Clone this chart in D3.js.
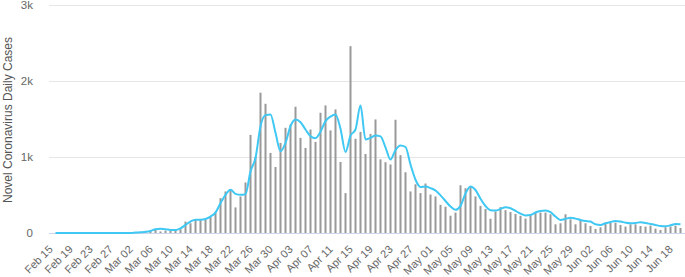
<!DOCTYPE html>
<html><head><meta charset="utf-8">
<script src="https://cdn.jsdelivr.net/npm/d3@7"></script>
<style>
html,body{margin:0;padding:0;background:#fff;}
svg{display:block;font-family:"Lucida Grande","Lucida Sans Unicode","Liberation Sans",Arial,sans-serif;}
</style></head>
<body><svg id="c" width="685" height="277"></svg>
<script>
// ---- data ----
const startDate = "2020-02-15";
const dailyCases = [
 0,0,0,0,0,0,0,0,0,0, 0,0,0,0,0,0,0,3,6,10,
 40,50,20,30,30,42,50,150,128,180, 176,180,216,280,458,546,568,336,480,664,
 1289,1000,1844,1698,1052,867,1184,1382,1426,1659, 1250,1118,1360,1197,1580,1676,1348,1624,933,524,
 2455,1238,1329,1038,1302,1492,968,930,900,1488, 1023,798,546,640,524,650,505,480,370,345,
 227,268,627,588,612,480,356,315,187,282, 340,300,275,250,226,190,233,264,268,268,
 246,114,128,246,180,114,172,128,92,53, 75,136,136,136,106,84,114,114,92,84,
 97,57,40,75,84,97,66
];
const smoothed = [
 null,0,0,0,0,0,0,0,0,0, 0,0,0,0,0,0,0,5,10,15,
 26,50,55,50,40,40,62,106,150,175, 175,185,216,268,392,502,568,515,502,510,
 810,986,1404,1549,1558,1316,1074,1184,1404,1492, 1456,1360,1272,1245,1330,1470,1530,1558,1370,1065,
 1280,1360,1676,1228,1250,1280,1270,1125,965,1090, 1150,1130,900,700,605,612,590,559,495,420,
 348,304,356,520,612,565,450,355,300,295, 315,340,326,290,255,230,236,270,290,295,
 273,216,172,185,202,189,172,158,150,114, 106,128,145,158,150,136,128,132,141,132,
 119,106,92,88,101,119,114
];
const yTicks = [0,1000,2000,3000];
const yTickLabels = ["0","1k","2k","3k"];
const xTickLabels = ["Feb 15","Feb 19","Feb 23","Feb 27","Mar 02","Mar 06","Mar 10","Mar 14","Mar 18","Mar 22","Mar 26","Mar 30","Apr 03","Apr 07","Apr 11","Apr 15","Apr 19","Apr 23","Apr 27","May 01","May 05","May 09","May 13","May 17","May 21","May 25","May 29","Jun 02","Jun 06","Jun 10","Jun 14","Jun 18"];
const yTitle = "Novel Coronavirus Daily Cases";

// ---- chart ----
const fmt = d3.timeFormat("%b %d");
const start = d3.timeParse("%Y-%m-%d")(startDate);
const days = dailyCases.map((v,i)=>fmt(d3.timeDay.offset(start,i)));
const rows = days.map((d,i)=>({d, v:dailyCases[i], s:smoothed[i]}));

const svg = d3.select("#c");
const x = d3.scaleBand().domain(days).range([48,683]).paddingInner(0.6).paddingOuter(0.3);
const y = d3.scaleLinear().domain([0,3000]).range([233,4.7]);
const cx = d => x(d) + x.bandwidth()/2;

// grid
svg.append("g").selectAll("line").data(yTicks.filter(t=>t>0)).join("line")
  .attr("x1",49).attr("x2",685).attr("y1",d=>Math.round(y(d))+0.5).attr("y2",d=>Math.round(y(d))+0.5)
  .attr("stroke","#e6e6e6").attr("stroke-width",1);

// y labels
svg.append("g").selectAll("text").data(yTicks).join("text")
  .attr("x",33).attr("y",d=>y(d)+4).attr("text-anchor","end")
  .attr("font-size",11.5).attr("fill","#666").text((d,i)=>yTickLabels[i]);

// y title
svg.append("text").attr("transform","translate(12,120) rotate(-90)")
  .attr("text-anchor","middle").attr("font-size",12).attr("fill","#555").text(yTitle);

// bars
svg.append("g").selectAll("rect").data(rows).join("rect")
  .attr("x",d=>x(d.d)).attr("width",x.bandwidth())
  .attr("y",d=>y(d.v)).attr("height",d=>y(0)-y(d.v))
  .attr("fill","#999");

// axis line
svg.append("line").attr("x1",49).attr("x2",685).attr("y1",233.5).attr("y2",233.5)
  .attr("stroke","#ccd6eb").attr("stroke-width",1);

// smoothed line
const line = d3.line().defined(d=>d.s!==null).x(d=>cx(d.d)).y(d=>y(d.s)).curve(d3.curveMonotoneX);
svg.append("path").datum(rows).attr("d",line).attr("fill","none")
  .attr("stroke","#3ec8f3").attr("stroke-width",2);

// x labels
svg.append("g").selectAll("text").data(xTickLabels).join("text")
  .attr("transform",d=>`translate(${cx(d)+3},250) rotate(-45)`)
  .attr("text-anchor","end").attr("font-size",11).attr("fill","#666").text(d=>d);
</script></body></html>
